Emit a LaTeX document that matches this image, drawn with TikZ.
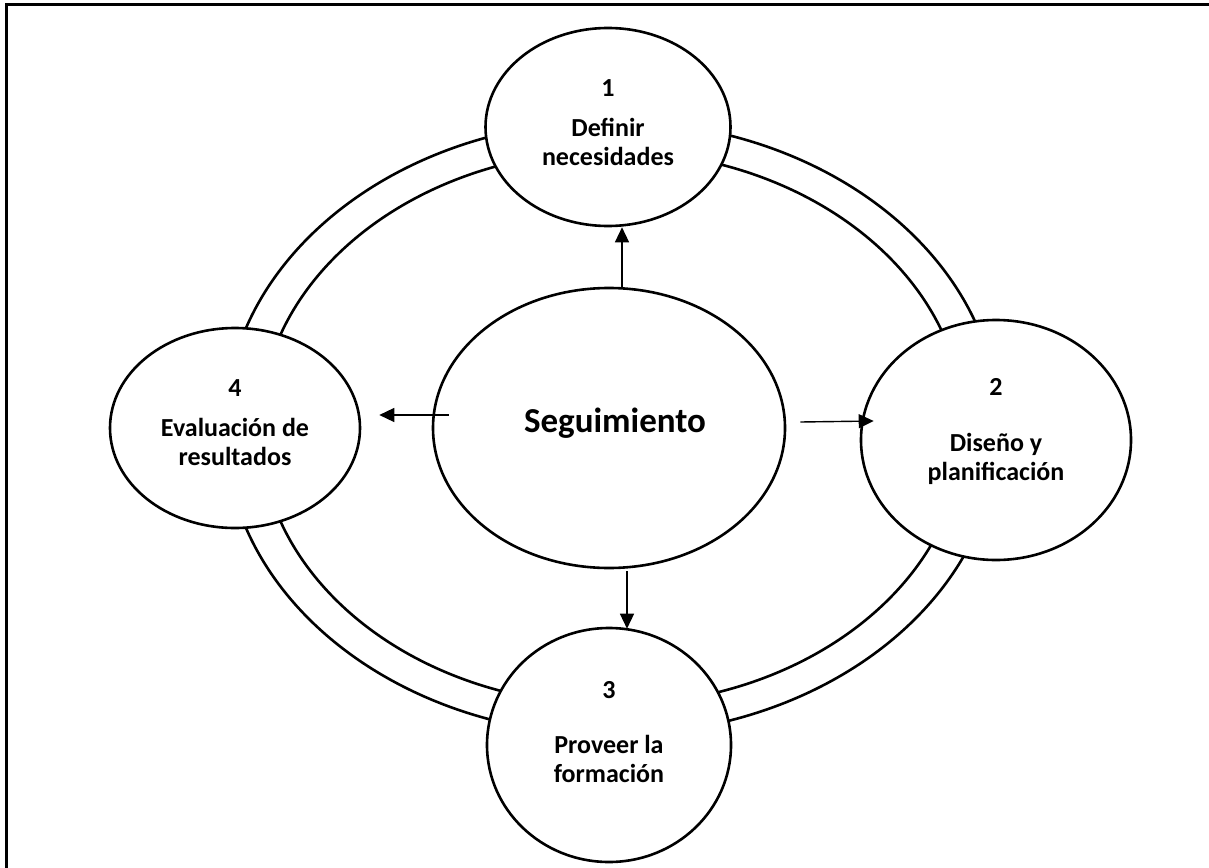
\documentclass[tikz,border=0pt]{standalone}
\usepackage{fontspec}
\setmainfont{Carlito}
\usetikzlibrary{shapes.geometric,arrows.meta}
\tikzset{
  stage/.style={draw, line width=2.6pt, fill=white, ellipse, inner sep=0pt},
  stagetext/.style={align=center, inner sep=0pt, font=\fontsize{26}{29}\selectfont\bfseries},
  ringline/.style={line width=2.6pt},
  arr/.style={line width=1.4pt, -{Triangle[length=15pt,width=14pt]}},
}
\begin{document}
\begin{tikzpicture}[x=1pt,y=-1pt]
\useasboundingbox (0,0) rectangle (1209,867);
\fill[white] (0,0) rectangle (1209,867);
\draw[line width=3pt] (1240,5) -- (6,5) -- (6,900);
% ring
\draw[ringline] (612,428) ellipse [x radius=387, y radius=307];
\draw[ringline] (612,428) ellipse [x radius=352, y radius=277];
% stages
\node[stage, minimum width=245pt, minimum height=198pt] (e1) at (608,127) {};
\node[stagetext, yshift=4pt] (e1t) at (e1.center) {1\\[11pt]Definir\\necesidades};
\node[stage, minimum width=250pt, minimum height=200pt] (e4) at (235,428) {};
\node[stagetext, yshift=5pt] (e4t) at (e4.center) {4\\[11pt]Evaluación de\\resultados};
\node[stage, minimum width=270pt, minimum height=240pt] (e2) at (996,440) {};
\node[stagetext, yshift=8pt] (e2t) at (e2.center) {2\\[27pt]Diseño y\\planificación};
\node[stage, minimum width=244pt, minimum height=234pt] (e3) at (609,745) {};
\node[stagetext, yshift=13pt] (e3t) at (e3.center) {3\\[26pt]Proveer la\\formación};
\node[stage, minimum width=352pt, minimum height=280pt] (seg) at (609,428) {};
\node[inner sep=0pt, font=\fontsize{35}{40}\selectfont\bfseries, xshift=6pt, yshift=5pt] (segt) at (seg.center) {Seguimiento};
% arrows
\draw[arr] ([shift={(13,0)}]seg.north) -- ([shift={(14,0)}]e1.south);
\draw[arr] ([shift={(18,2)}]seg.south) -- ([shift={(18,2)}]e3.north);
\draw[arr] ([shift={(17,-13)}]seg.west) -- ([shift={(18,-13)}]e4.east);
\draw[arr] ([shift={(14,-6)}]seg.east) -- ([shift={(14,-19)}]e2.west);
\end{tikzpicture}
\end{document}
